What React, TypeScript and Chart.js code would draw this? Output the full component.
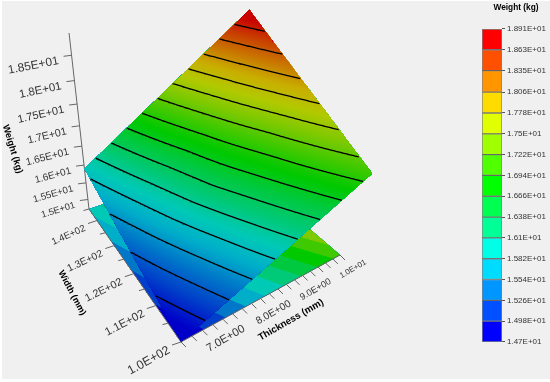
import React, { useEffect, useRef } from "react";
import Chart from "chart.js/auto";

// ---- data ----
const thicknessGrid = [6.4, 7, 8, 9, 10];
const widthGrid = [100, 110, 120, 130, 140, 145];
const weightAtThickness6p4 = [14.7, 14.97, 15.23, 15.5, 15.77, 15.9];
const weightAtThickness7 = [15.09, 15.38, 15.68, 15.96, 16.25, 16.4];
const weightAtThickness8 = [15.75, 16.08, 16.43, 16.72, 17.07, 17.24];
const weightAtThickness9 = [16.4, 16.77, 17.12, 17.51, 17.88, 18.07];
const weightAtThickness10 = [17.06, 17.47, 17.88, 18.29, 18.7, 18.91];
const weightGrid = [weightAtThickness6p4, weightAtThickness7, weightAtThickness8, weightAtThickness9, weightAtThickness10];

const legendLevels = [14.7, 14.98, 15.26, 15.54, 15.82, 16.1, 16.38, 16.66, 16.94, 17.22, 17.5, 17.78, 18.06, 18.35, 18.63, 18.91];
const legendLabels = ["1.47E+01", "1.498E+01", "1.526E+01", "1.554E+01", "1.582E+01", "1.61E+01", "1.638E+01", "1.666E+01", "1.694E+01", "1.722E+01", "1.75E+01", "1.778E+01", "1.806E+01", "1.835E+01", "1.863E+01", "1.891E+01"];
const legendColors = ["#0000ff", "#0050ff", "#0096ff", "#00dcff", "#00ffe6", "#00ff96", "#00ff50", "#00ff00", "#50ff00", "#a0ff00", "#e0ff00", "#ffdc00", "#ff9600", "#ff5000", "#ff0000"];

const weightTicks = [15, 15.5, 16, 16.5, 17, 17.5, 18, 18.5];
const weightTickLabels = ["1.5E+01", "1.55E+01", "1.6E+01", "1.65E+01", "1.7E+01", "1.75E+01", "1.8E+01", "1.85E+01"];
const widthTicks = [100, 110, 120, 130, 140];
const widthTickLabels = ["1.0E+02", "1.1E+02", "1.2E+02", "1.3E+02", "1.4E+02"];
const widthMinorTicks = [105, 115, 125, 135, 145];
const thicknessTicks = [7, 8, 9, 10];
const thicknessTickLabels = ["7.0E+00", "8.0E+00", "9.0E+00", "1.0E+01"];
const thicknessMinorTicks = [6.4, 6.6, 6.8, 7.2, 7.4, 7.6, 7.8, 8.2, 8.4, 8.6, 8.8, 9.2, 9.4, 9.6, 9.8];

// ---- styles ----
const thicknessLabelSizes = [11.3, 10.3, 9.2, 7.8];
const SHADE = 0.79;
const FONT = '"Liberation Sans", Arial, sans-serif';
const T0 = 6.4, T1 = 10, W0 = 100, W1 = 145, Z0 = 14.7, Z1 = 18.91;

// ---- camera ----
function project(t: number, w: number, z: number) {
  const u = (t - T0) / (T1 - T0), v = (w - W0) / (W1 - W0), s = (z - Z0) / (Z1 - Z0);
  const h = 1 + 0.25 * u + 0.32 * v - 0.338 * s;
  return {
    x: (181 + 244 * u - 63.5 * v - 49.7 * s - 4.5 * u * s) / h,
    y: (342 - 23.25 * u - 66.1 * v - 243.5 * s + 3 * u * s) / h,
    h,
  };
}

function segIndex(arr: number[], x: number) {
  let i = 0;
  while (i < arr.length - 2 && x > arr[i + 1]) i++;
  return i;
}
function weightColumn(w: number) {
  const j = segIndex(widthGrid, w);
  const f = (w - widthGrid[j]) / (widthGrid[j + 1] - widthGrid[j]);
  return weightGrid.map((row) => row[j] + (row[j + 1] - row[j]) * f);
}
// thickness at which the weight reaches a level, for a given width
function thicknessAtLevel(w: number, level: number) {
  const col = weightColumn(w);
  if (level <= col[0]) return null;
  if (level >= col[col.length - 1]) return null;
  for (let i = 0; i < col.length - 1; i++) {
    if (level <= col[i + 1]) return thicknessGrid[i] + ((level - col[i]) / (col[i + 1] - col[i])) * (thicknessGrid[i + 1] - thicknessGrid[i]);
  }
  return null;
}
function regionAbove(level: number, zAt: (z: number) => number) {
  const n = 120;
  const pts: { x: number; y: number }[] = [];
  for (let j = 0; j <= n; j++) {
    const w = W0 + ((W1 - W0) * j) / n;
    const col = weightColumn(w);
    let t = thicknessAtLevel(w, level);
    if (t === null) t = level <= col[0] ? T0 : T1;
    const zv = level <= col[0] ? col[0] : level >= col[col.length - 1] ? col[col.length - 1] : level;
    pts.push(project(t, w, zAt(zv)));
  }
  // back along the high-thickness edge
  for (let j = n; j >= 0; j--) {
    const w = W0 + ((W1 - W0) * j) / n;
    const col = weightColumn(w);
    pts.push(project(T1, w, zAt(col[col.length - 1])));
  }
  return pts;
}
function contour(level: number) {
  const n = 220;
  const pts: { x: number; y: number }[] = [];
  for (let j = 0; j <= n; j++) {
    const w = W0 + ((W1 - W0) * j) / n;
    const t = thicknessAtLevel(w, level);
    if (t !== null) pts.push(project(t, w, level));
  }
  return pts;
}
function hexRgb(h: string) {
  return [parseInt(h.slice(1, 3), 16), parseInt(h.slice(3, 5), 16), parseInt(h.slice(5, 7), 16)];
}
function shaded(c: number[]) {
  return `rgb(${Math.round(c[0] * SHADE)},${Math.round(c[1] * SHADE)},${Math.round(c[2] * SHADE)})`;
}
function smoothColor(z: number) {
  const centers = legendColors.map((_, i) => (legendLevels[i] + legendLevels[i + 1]) / 2);
  if (z <= centers[0]) return shaded(hexRgb(legendColors[0]));
  for (let i = 0; i < centers.length - 1; i++) {
    if (z <= centers[i + 1]) {
      const f = (z - centers[i]) / (centers[i + 1] - centers[i]);
      const a = hexRgb(legendColors[i]), b = hexRgb(legendColors[i + 1]);
      return shaded(a.map((x, k) => x + (b[k] - x) * f));
    }
  }
  return shaded(hexRgb(legendColors[legendColors.length - 1]));
}

const polygon = (data: any[], color: string) => ({ data, showLine: true, fill: "shape", backgroundColor: color, borderColor: color, borderWidth: 0, pointRadius: 0, clip: false });
const stroke = (data: any[], color: string, width: number) => ({ data, showLine: true, fill: false, borderColor: color, borderWidth: width, pointRadius: 0, clip: false, tension: 0 });
const offsetTick = (p: { x: number; y: number }, dx: number, dy: number) => [{ x: p.x, y: p.y }, { x: p.x + dx, y: p.y + dy }];

function buildLayers() {
  const layers: any[] = [];
  // floor: flat bands
  legendColors.forEach((c, i) => {
    layers.push(polygon(regionAbove(i === 0 ? Z0 - 1 : legendLevels[i], () => Z0), shaded(hexRgb(c))));
  });
  // axes
  const AXIS = "#666666";
  layers.push(stroke([project(T0, W1, Z0), project(T0, W1, Z1)], AXIS, 1));
  layers.push(stroke([project(T0, W0, Z0), project(T0, W1, Z0)], AXIS, 1));
  layers.push(stroke([project(T0, W0, Z0), project(T1, W0, Z0)], AXIS, 1));
  weightTicks.forEach((z) => layers.push(stroke(offsetTick(project(T0, W1, z), -8, 1), AXIS, 1)));
  widthTicks.forEach((w) => layers.push(stroke(offsetTick(project(T0, w, Z0), -9, 3), AXIS, 1)));
  widthMinorTicks.forEach((w) => layers.push(stroke(offsetTick(project(T0, w, Z0), -5.5, 1.5), AXIS, 1)));
  [...thicknessTicks, ...thicknessMinorTicks].forEach((t) => layers.push(stroke(offsetTick(project(t, W0, Z0), 5, 5), AXIS, 1)));
  // surface: smooth colour painted from low to high
  const steps = 170;
  for (let i = 0; i < steps; i++) {
    const level = i === 0 ? Z0 - 1 : Z0 + ((Z1 - Z0) * i) / steps;
    layers.push(polygon(regionAbove(level, (z) => z), smoothColor(Z0 + ((Z1 - Z0) * (i + 0.5)) / steps)));
  }
  // contour lines
  legendLevels.slice(1, -1).forEach((l) => layers.push(stroke(contour(l), "#000000", 1.3)));
  return layers.reverse();
}

const textPlugin = {
  id: "axisText",
  afterDatasetsDraw(chart: any) {
    const { ctx, scales } = chart;
    const put = (text: string, px: number, py: number, deg: number, size: number, align: CanvasTextAlign, bold = false, color = "#333333") => {
      ctx.save();
      ctx.translate(scales.x.getPixelForValue(px), scales.y.getPixelForValue(py));
      ctx.rotate((deg * Math.PI) / 180);
      ctx.font = `${bold ? "bold " : ""}${size}px ${FONT}`;
      ctx.textAlign = align;
      ctx.textBaseline = "middle";
      ctx.fillStyle = color;
      ctx.fillText(text, 0, 0);
      ctx.restore();
    };
    weightTicks.forEach((z, i) => {
      const p = project(T0, W1, z);
      put(weightTickLabels[i], p.x - 13, p.y + 5.5, -11 - ((18.5 - z) / 3.5) * 6, 12.1 / p.h, "right");
    });
    widthTicks.forEach((w, i) => {
      const p = project(T0, w, Z0);
      put(widthTickLabels[i], p.x - 12, p.y + 7.5, -29 + ((w - 100) / 40) * 5, 12.3 / p.h, "right");
    });
    thicknessTicks.forEach((t, i) => {
      const p = project(t, W0, Z0);
      put(thicknessTickLabels[i], p.x + 13, p.y + 14, -30, thicknessLabelSizes[i], "center");
    });
    put("Weight (kg)", 12.5, 149, 73, 9.3, "center", true, "#000");
    put("Width (mm)", 72, 293, 62, 9, "center", true, "#000");
    put("Thickness (mm)", 291, 320, -30, 9.7, "center", true, "#000");
  },
};

export default function App() {
  const mainRef = useRef<HTMLCanvasElement>(null);
  const legendRef = useRef<HTMLCanvasElement>(null);
  useEffect(() => {
    const main = new Chart(mainRef.current!, {
      type: "scatter",
      data: { datasets: buildLayers() },
      options: {
        animation: false,
        responsive: false,
        events: [],
        layout: { padding: 0 },
        plugins: { legend: { display: false }, tooltip: { enabled: false } },
        scales: {
          x: { type: "linear", display: false, min: 0, max: 550 },
          y: { type: "linear", display: false, min: 0, max: 382, reverse: true },
        },
      },
      plugins: [textPlugin],
    } as any);
    const legend = new Chart(legendRef.current!, {
      type: "bar",
      data: {
        labels: [""],
        datasets: legendColors.map((c, i) => ({
          data: [[legendLevels[i], legendLevels[i + 1]]],
          backgroundColor: c,
          borderColor: "rgba(40,40,40,0.55)",
          borderWidth: 1,
          borderSkipped: false,
          grouped: false,
          categoryPercentage: 1,
          barPercentage: 1,
        })),
      },
      options: {
        animation: false,
        responsive: false,
        events: [],
        layout: { padding: { left: 4, right: 0, top: 0, bottom: 40 } },
        plugins: {
          legend: { display: false },
          tooltip: { enabled: false },
          title: { display: true, text: "Weight (kg)", color: "#000", font: { family: FONT, size: 8.3, weight: "bold" }, padding: { top: 3, bottom: 16 } },
        },
        scales: {
          x: { display: false },
          y: {
            position: "right",
            min: Z0,
            max: Z1,
            border: { display: false },
            grid: { drawOnChartArea: false, drawTicks: true, tickLength: 3, color: "#555555" },
            afterFit: (axis: any) => { axis.width = 48; },
            afterBuildTicks: (axis: any) => { axis.ticks = legendLevels.map((value) => ({ value })); },
            ticks: {
              autoSkip: false,
              padding: 2,
              color: "#333333",
              font: { family: FONT, size: 8 },
              callback: (value: number) => legendLabels[legendLevels.indexOf(value)],
            },
          },
        },
      },
    } as any);
    return () => { main.destroy(); legend.destroy(); };
  }, []);
  return (
    <div style={{ position: "absolute", left: 0, top: 0, width: 550, height: 382, background: "#ffffff", overflow: "hidden" }}>
      <div style={{ position: "absolute", left: 2, top: 1, width: 548, height: 378, background: "#f0f0f0" }} />
      <canvas ref={mainRef} width={550} height={382} style={{ position: "absolute", left: 0, top: 0, display: "block" }} />
      <canvas ref={legendRef} width={72} height={382} style={{ position: "absolute", left: 478, top: 0, display: "block" }} />
    </div>
  );
}
